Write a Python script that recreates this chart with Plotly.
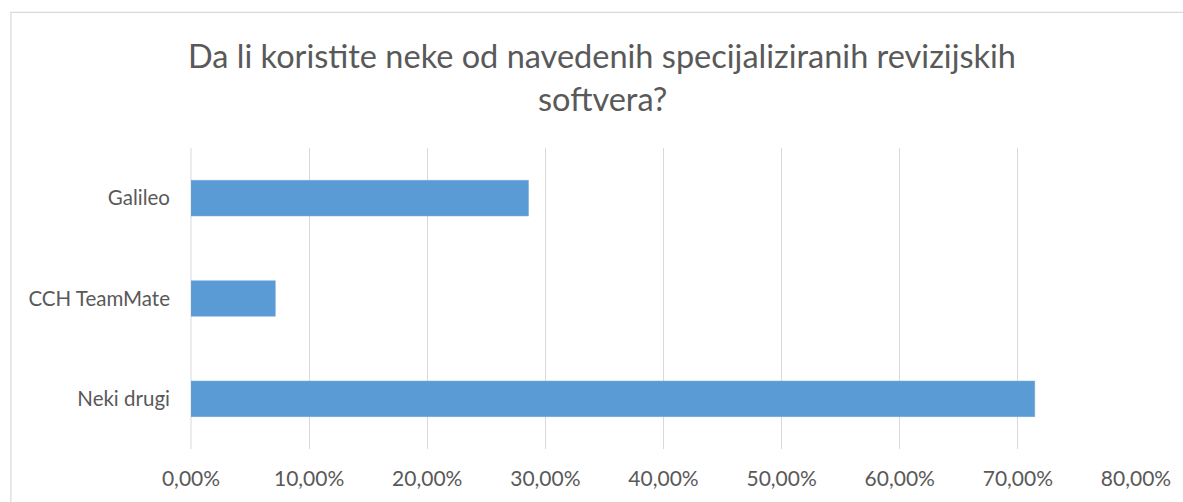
import plotly.graph_objects as go

categories = ["Galileo", "CCH TeamMate", "Neki drugi"]
values = [0.2857, 0.0714, 0.7143]
tick_values = [0, 0.1, 0.2, 0.3, 0.4, 0.5, 0.6, 0.7, 0.8]
title_lines = ["Da li koristite neke od navedenih specijaliziranih revizijskih", "softvera?"]

W, H = 1183, 502
ML, MR, MT, MB = 191, 45, 148, 51
pw, ph = W - ML - MR, H - MT - MB

def px_x(x):
    return (x - ML) / pw

def px_y(y):
    return (H - MB - y) / ph

fig = go.Figure(go.Bar(
    x=values, y=categories, orientation="h",
    marker=dict(color="#5B9BD5", line=dict(color="#6FA8DC", width=0.5)),
    hoverinfo="skip",
))

fig.update_layout(
    width=W, height=H,
    margin=dict(l=ML, r=MR, t=MT, b=MB),
    paper_bgcolor="white", plot_bgcolor="white",
    separators=",.",
    bargap=0.645,
    showlegend=False,
    font=dict(family="Lato, Carlito, sans-serif", color="#595959"),
    xaxis=dict(range=[0, 0.8], tickvals=tick_values, tickformat=".2%",
               showgrid=True, gridcolor="#D9D9D9", gridwidth=1,
               zeroline=False, showline=False, ticks="",
               tickfont=dict(size=21, color="#595959"), ticklabelstandoff=15),
    yaxis=dict(categoryorder="array", categoryarray=categories, autorange="reversed",
               showgrid=False, zeroline=False, showline=False, ticks="",
               tickfont=dict(size=20.5, color="#595959"), ticklabelstandoff=20),
    shapes=[
        dict(type="line", xref="paper", yref="paper", x0=0, x1=0, y0=0, y1=1,
             line=dict(color="#D9D9D9", width=1), layer="below"),
        dict(type="rect", xref="paper", yref="paper",
             x0=px_x(10.5), x1=px_x(1260), y0=px_y(560), y1=px_y(11.5),
             line=dict(color="#D9D9D9", width=1.2), fillcolor="rgba(0,0,0,0)"),
    ],
    annotations=[
        dict(text=title_lines[0], xref="paper", yref="paper", x=px_x(603), y=px_y(55),
             xanchor="center", yanchor="middle", showarrow=False,
             font=dict(size=32.5, color="#595959")),
        dict(text=title_lines[1], xref="paper", yref="paper", x=px_x(603), y=px_y(98),
             xanchor="center", yanchor="middle", showarrow=False,
             font=dict(size=32.5, color="#595959")),
    ],
)

fig.write_html("out.html", config={"displayModeBar": False},
               post_script="document.body.style.margin='0';document.body.style.overflow='hidden';")
